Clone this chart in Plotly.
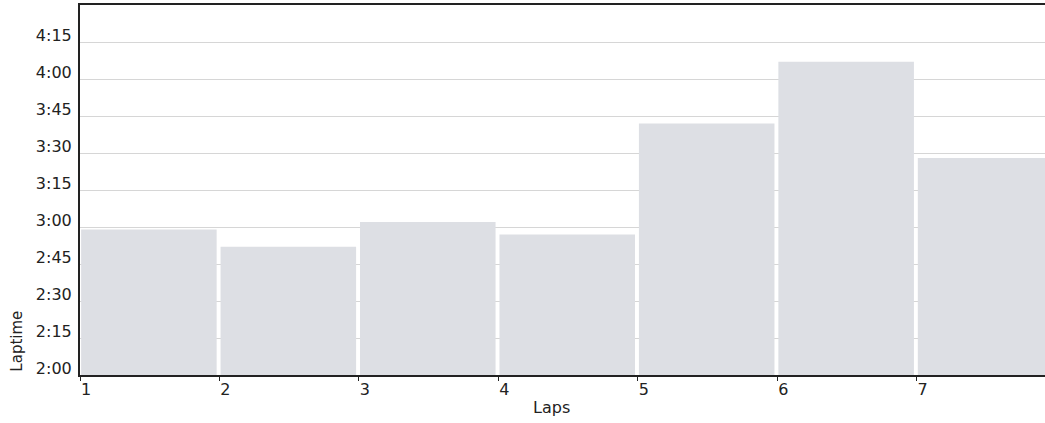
import plotly.graph_objects as go

laps = [1, 2, 3, 4, 5, 6, 7]
lap_times_sec = [179, 172, 182, 177, 222, 247, 208]
y_tick_vals = [120, 135, 150, 165, 180, 195, 210, 225, 240, 255]
y_tick_text = ["2:00", "2:15", "2:30", "2:45", "3:00", "3:15", "3:30", "3:45", "4:00", "4:15"]
x_tick_vals = [1, 2, 3, 4, 5, 6, 7]

font_family = "DejaVu Sans"
txt_color = "#222"

fig = go.Figure()
fig.add_trace(go.Bar(
    x=laps,
    y=[t - 120 for t in lap_times_sec],
    base=120,
    offset=0.008,
    width=0.972,
    marker=dict(color="#dddfe4", line=dict(width=0)),
    hoverinfo="skip",
))

fig.update_layout(
    width=1045, height=423,
    margin=dict(l=80, r=0, t=5, b=48),
    paper_bgcolor="white", plot_bgcolor="white",
    showlegend=False,
    font=dict(family=font_family, size=16, color=txt_color),
    xaxis=dict(
        range=[1, 7.92],
        tickvals=x_tick_vals,
        ticktext=[str(v) for v in x_tick_vals],
        showgrid=False, zeroline=False,
        showline=True, linecolor="#222", linewidth=2, mirror=True,
        ticks="outside", ticklen=4, tickcolor="#222",
        ticklabelshift=6, ticklabelstandoff=-5,
        tickfont=dict(size=16, family=font_family, color=txt_color),
    ),
    yaxis=dict(
        range=[120, 270],
        tickvals=y_tick_vals,
        ticktext=y_tick_text,
        showgrid=True, gridcolor="#d6d6d6", gridwidth=1,
        zeroline=False,
        showline=True, linecolor="#222", linewidth=2,
        ticks="", ticklabelshift=-7, ticklabelstandoff=3,
        tickfont=dict(size=16, family=font_family, color=txt_color),
    ),
    annotations=[
        dict(text="Laps", xref="paper", yref="paper", x=(551.7 - 80) / 965, y=-32 / 370,
             xanchor="center", yanchor="middle", showarrow=False,
             font=dict(size=16, family=font_family, color=txt_color)),
        dict(text="Laptime", xref="paper", yref="paper", x=-(80 - 17) / 965, y=0.005,
             xanchor="center", yanchor="bottom", textangle=-90, showarrow=False,
             font=dict(size=15, family=font_family, color=txt_color)),
    ],
)

fig.write_html("out.html", config={"displayModeBar": False},
               post_script="document.body.style.margin='0';document.body.style.overflow='hidden';")
